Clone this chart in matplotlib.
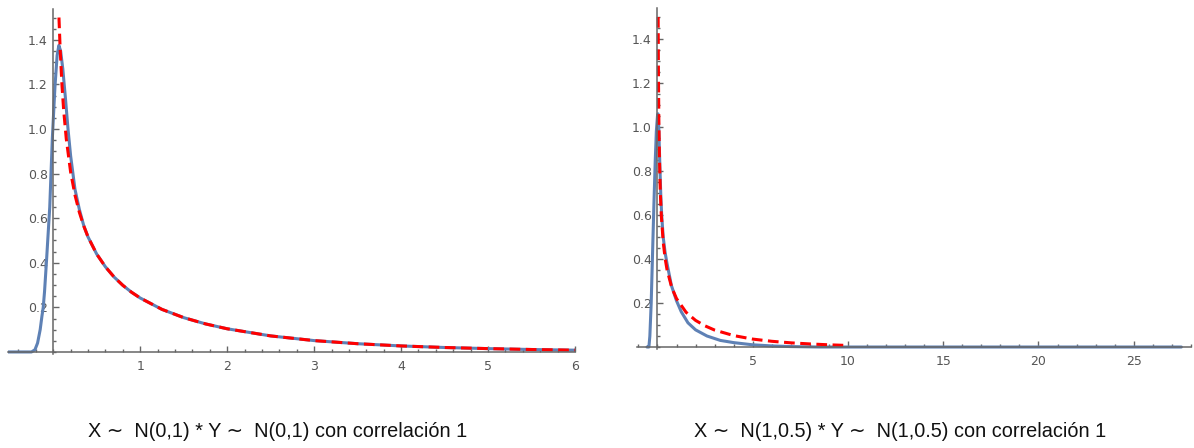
import numpy as np
import matplotlib
matplotlib.use("Agg")
import matplotlib.pyplot as plt
from matplotlib.ticker import FixedLocator, MultipleLocator

# Sol panel: N(0,1) * N(0,1), korelasyon 1
left_blue_x = [-0.52, -0.25, -0.21, -0.18, -0.15, -0.13, -0.115, -0.10, -0.077, -0.04,
               -0.01, 0.02, 0.045, 0.065, 0.085, 0.11, 0.14, 0.17, 0.2, 0.25, 0.3,
               0.35, 0.4, 0.5, 0.6, 0.7, 0.8, 0.9, 1.0, 1.25, 1.5, 1.75, 2.0, 2.5, 3.0,
               3.5, 4.0, 4.5, 5.0, 5.5, 6.0]
left_blue_y = [0.0, 0.0, 0.01, 0.04, 0.10, 0.16, 0.20, 0.27, 0.41, 0.65,
               0.96, 1.19, 1.33, 1.375, 1.35, 1.27, 1.14, 1.0, 0.88, 0.73, 0.64,
               0.568, 0.516, 0.439, 0.382, 0.336, 0.299, 0.268, 0.242, 0.191, 0.154,
               0.126, 0.104, 0.072, 0.051, 0.037, 0.027, 0.020, 0.015, 0.011, 0.008]
left_red_x = [0.066, 0.08, 0.1, 0.12, 0.15, 0.2, 0.25, 0.3, 0.35, 0.4, 0.5, 0.6, 0.7,
              0.8, 0.9, 1.0, 1.25, 1.5, 1.75, 2.0, 2.5, 3.0, 3.5, 4.0, 4.5, 5.0, 5.5, 6.0]
left_red_y = [1.50, 1.356, 1.200, 1.085, 0.956, 0.807, 0.704, 0.627, 0.566, 0.516,
              0.439, 0.382, 0.336, 0.299, 0.268, 0.242, 0.191, 0.154, 0.126, 0.104,
              0.072, 0.051, 0.037, 0.027, 0.020, 0.015, 0.011, 0.008]

# Sag panel: N(1,0.5) * N(1,0.5), korelasyon 1
right_blue_x = [-0.55, -0.45, -0.4, -0.33, -0.26, -0.19, -0.12, -0.06, 0.0, 0.03, 0.07,
                0.12, 0.17, 0.22, 0.3, 0.4, 0.5, 0.73, 1.0, 1.25, 1.6, 2.0, 2.6, 3.3,
                4.0, 5.0, 6.0, 7.0, 8.5, 27.5]
right_blue_y = [0.0, 0.0, 0.05, 0.2, 0.42, 0.64, 0.84, 0.98, 1.05, 1.06, 0.99,
                0.84, 0.70, 0.60, 0.50, 0.43, 0.38, 0.28, 0.21, 0.16, 0.11, 0.078, 0.05, 0.03,
                0.02, 0.01, 0.005, 0.002, 0.0, 0.0]
right_red_x = [0.035, 0.05, 0.07, 0.1, 0.15, 0.2, 0.3, 0.4, 0.5, 0.75, 1.0, 1.5, 2.0,
               2.5, 3.0, 4.0, 5.0, 6.0, 7.0, 8.0, 9.0, 10.0]
right_red_y = [1.50, 1.246, 1.048, 0.870, 0.701, 0.600, 0.478, 0.404, 0.352, 0.270,
               0.220, 0.158, 0.121, 0.096, 0.077, 0.052, 0.036, 0.026, 0.019, 0.014,
               0.010, 0.007]

captions = ["X \u223c  N(0,1) * Y \u223c  N(0,1) con correlación 1",
            "X \u223c  N(1,0.5) * Y \u223c  N(1,0.5) con correlación 1"]

blue = "#5E81B5"
red = "#FF0000"
axis_col = "#666666"
label_col = "#555555"

fig = plt.figure(figsize=(11.94, 4.48), dpi=100)


def style_axes(ax, xlim, xmajor, xminor):
    ax.set_xlim(*xlim)
    ax.set_ylim(-0.01, 1.54)
    for s in ["top", "right"]:
        ax.spines[s].set_visible(False)
    ax.spines["left"].set_position(("data", 0))
    ax.spines["bottom"].set_position(("data", 0))
    for s in ["left", "bottom"]:
        ax.spines[s].set_color(axis_col)
        ax.spines[s].set_linewidth(1.1)
    ax.xaxis.set_major_locator(FixedLocator(xmajor))
    ax.xaxis.set_minor_locator(MultipleLocator(xminor))
    ax.yaxis.set_major_locator(FixedLocator([0.2, 0.4, 0.6, 0.8, 1.0, 1.2, 1.4]))
    ax.yaxis.set_minor_locator(MultipleLocator(0.05))
    ax.tick_params(which="both", direction="in", color=axis_col, width=1.0,
                   labelsize=9, labelcolor=label_col)
    ax.tick_params(which="major", length=4.2)
    ax.tick_params(which="minor", length=2.2)
    ax.tick_params(axis="x", pad=6)
    ax.tick_params(axis="y", pad=4)
    ax.set_yticklabels(["0.2", "0.4", "0.6", "0.8", "1.0", "1.2", "1.4"])
    ax.patch.set_alpha(0)


ax1 = fig.add_axes([0.0067, 0.2094, 0.4749, 0.7714])
ax1.plot(left_blue_x, left_blue_y, color=blue, lw=2.2, solid_capstyle="round")
ax1.plot(left_red_x, left_red_y, color=red, lw=2.2, dashes=(3.5, 1.8))
style_axes(ax1, (-0.52, 6.0), [1, 2, 3, 4, 5, 6], 0.2)
ax1.set_xticklabels(["1", "2", "3", "4", "5", "6"])

ax2 = fig.add_axes([0.5331, 0.2205, 0.4643, 0.7612])
ax2.plot(right_blue_x, right_blue_y, color=blue, lw=2.2, solid_capstyle="round")
ax2.plot(right_red_x, right_red_y, color=red, lw=2.2, dashes=(3.5, 1.8))
style_axes(ax2, (-1.1, 28.0), [5, 10, 15, 20, 25], 1.0)
ax2.set_xticklabels(["5", "10", "15", "20", "25"])

fig.text(278 / 1194, 1 - 431 / 448, captions[0], ha="center", va="center",
         fontsize=14.3, color="#111111", family=["Liberation Sans", "DejaVu Sans"])
fig.text(900 / 1194, 1 - 431 / 448, captions[1], ha="center", va="center",
         fontsize=14.3, color="#111111", family=["Liberation Sans", "DejaVu Sans"])

fig.savefig("out.png", dpi=100)
